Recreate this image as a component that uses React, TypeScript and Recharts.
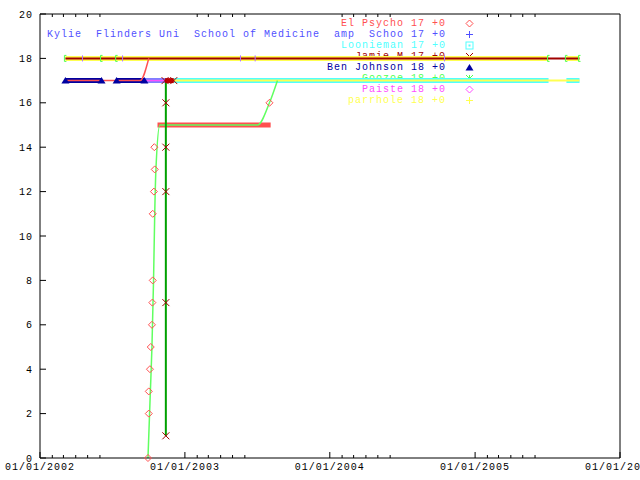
import React from "react";
import { ComposedChart, Line, Scatter, XAxis, YAxis, Legend } from "recharts";

const d = (s: string) => Date.parse(s + "T00:00:00Z");

// axes
const yearTicks = ["2002-01-01", "2003-01-01", "2004-01-01", "2005-01-01", "2006-01-01"];
const rankTicks = [0, 2, 4, 6, 8, 10, 12, 14, 16, 18, 20];
const minorTicks = [
  "2002-02-01", "2002-03-01", "2002-04-01", "2002-05-01", "2002-06-01",
  "2003-02-01", "2003-03-01", "2003-04-01", "2003-05-01", "2003-06-01",
  "2004-02-01", "2004-03-01", "2004-04-01", "2004-05-01", "2004-06-01",
  "2005-02-01", "2005-03-01", "2005-04-01", "2005-05-01", "2005-06-01",
];

// key
const names = [
  "El Psycho",
  "Kylie  Flinders Uni  School of Medicine  amp  Schoo",
  "Loonieman",
  "Jamie M",
  "Ben Johnson",
  "Goozoe",
  "Paiste",
  "parrhole",
];
const finals = ["17 +0", "17 +0", "17 +0", "17 +0", "18 +0", "18 +0", "18 +0", "18 +0"];

// El Psycho
const psychoDates = [
  "2002-09-30", "2002-10-02", "2002-10-02", "2002-10-05", "2002-10-07", "2002-10-10", "2002-10-11",
  "2002-10-12", "2002-10-12", "2002-10-15", "2002-10-17", "2002-10-16", "2003-08-02",
];
const psychoRanks = [0, 2, 3, 4, 5, 6, 7, 8, 11, 12, 13, 14, 16];
const psychoRunDates = ["2002-10-24", "2003-08-05"];
const psychoRunRanks = [15, 15];
const psychoLineDates = ["2002-03-08", "2002-09-10", "2002-10-02"];
const psychoLineRanks = [17, 17, 18];

// Goozoe
const goozoeDates = [
  "2002-09-30", "2002-10-06", "2002-10-10", "2002-10-14", "2002-10-17", "2002-10-20",
  "2002-10-30", "2003-07-03", "2003-08-02", "2003-08-22",
];
const goozoeRanks = [0, 3, 5, 8, 11, 13, 15, 15, 16, 17];

// parrhole
const parrholeDates = ["2002-03-06", "2005-07-05", "2005-07-20", "2005-08-19", "2005-09-21"];
const parrholeRanks = [18, 18, null, 18, 18];
const parrholeLineDates = ["2002-11-28", "2005-09-21"];
const parrholeLineRanks = [17, 17];

// Loonieman
const loonieDates = ["2002-12-04", "2005-07-05", "2005-07-20", "2005-08-19", "2005-09-21"];
const loonieRanks = [17, 17, null, 17, 17];

// Jamie M
const jamieLineDates = ["2002-03-06", "2005-09-21"];
const jamieLineRanks = [18, 18];
const jamieDates = ["2002-11-14", "2002-11-14", "2002-11-14", "2002-11-14", "2002-11-14", "2002-11-12", "2002-12-04"];
const jamieRanks = [1, 7, 12, 14, 16, 17, 17];
const jamieRunDates = ["2002-11-12", "2002-12-04"];
const jamieRunRanks = [17, 17];
const dropDates = ["2002-11-14", "2002-11-14"];
const dropRanks = [1, 17];

// Kylie
const kylieDates = ["2002-07-13", "2002-11-14"];
const kylieRanks = [17, 17];

// Ben Johnson
const benDates = ["2002-03-06", "2002-06-05", "2002-06-20", "2002-07-13", "2002-09-21"];
const benRanks = [17, 17, null, 17, 17];
const benEndDates = ["2002-03-06", "2002-06-05", "2002-07-13", "2002-09-21"];
const benEndRanks = [17, 17, 17, 17];

// Paiste
const paisteDates = ["2002-09-21", "2002-11-14"];
const paisteRanks = [17, 17];
const paisteMarkDates = ["2002-04-18", "2002-07-28", "2003-05-21", "2003-06-27", "2004-10-16"];
const paisteMarkRanks = [18, 18, 18, 18, 18];

// Goozoe marks
const goozoeMarkDates = ["2002-03-06", "2002-06-05", "2002-07-13", "2005-07-05", "2005-08-19", "2005-09-21"];
const goozoeMarkRanks = [18, 18, 18, 18, 18, 18];

const rows = (dates: string[], ranks: (number | null)[]) =>
  dates.map((s, i) => ({ t: d(s), r: ranks[i] }));

const RED = "#ff5050";
const BLUE = "#5050ff";
const CYAN = "#50ffff";
const DARKRED = "#a00000";
const DARKBLUE = "#0000a0";
const GREEN = "#50ff50";
const MAGENTA = "#ff50ff";
const YELLOW = "#ffff50";
const FONT = "'Liberation Mono', 'DejaVu Sans Mono', monospace";

type Kind = "diamond" | "plus" | "box" | "cross" | "triangle" | "star";
const kinds: Kind[] = ["diamond", "plus", "box", "cross", "triangle", "star", "diamond", "plus"];
const colors = [RED, BLUE, CYAN, DARKRED, DARKBLUE, GREEN, MAGENTA, YELLOW];

function Mark({ kind, x, y, c }: { kind: Kind; x: number; y: number; c: string }) {
  const s = 3.5;
  switch (kind) {
    case "diamond":
      return <polygon points={`${x},${y - s} ${x + s},${y} ${x},${y + s} ${x - s},${y}`} fill="none" stroke={c} />;
    case "plus":
      return (
        <g stroke={c}>
          <line x1={x - s} y1={y} x2={x + s} y2={y} />
          <line x1={x} y1={y - s} x2={x} y2={y + s} />
        </g>
      );
    case "box":
      return (
        <g stroke={c} fill="none">
          <rect x={x - s} y={y - s} width={2 * s} height={2 * s} />
          <rect x={x - 0.5} y={y - 0.5} width={1} height={1} fill={c} />
        </g>
      );
    case "cross":
      return (
        <g stroke={c}>
          <line x1={x - s} y1={y - s} x2={x + s} y2={y + s} />
          <line x1={x - s} y1={y + s} x2={x + s} y2={y - s} />
        </g>
      );
    case "triangle":
      return <polygon points={`${x},${y - s} ${x + s + 0.5},${y + s - 0.5} ${x - s - 0.5},${y + s - 0.5}`} fill={c} />;
    default:
      return (
        <g stroke={c}>
          <line x1={x - s} y1={y} x2={x + s} y2={y} />
          <line x1={x} y1={y - s} x2={x} y2={y + s} />
          <line x1={x - s} y1={y - s} x2={x + s} y2={y + s} />
          <line x1={x - s} y1={y + s} x2={x + s} y2={y - s} />
        </g>
      );
  }
}

const KeyBox = () => (
  <div style={{ width: 640, fontFamily: FONT, fontSize: 10, letterSpacing: 1 }}>
    {names.map((n, i) => (
      <div key={n} style={{ position: "relative", height: 11, lineHeight: "11px" }}>
        <span style={{ position: "absolute", right: 194, whiteSpace: "pre", color: colors[i] }}>
          {n + " " + finals[i]}
        </span>
        <svg width={11} height={11} style={{ position: "absolute", left: 464, top: 0 }}>
          <Mark kind={kinds[i]} x={5.5} y={5.5} c={colors[i]} />
        </svg>
      </div>
    ))}
  </div>
);

const band = (key: string, data: any[], color: string, w: number, type: any = "linear") => (
  <Line
    key={key}
    xAxisId="b"
    yAxisId="l"
    data={data}
    dataKey="r"
    type={type}
    stroke={color}
    strokeWidth={w}
    dot={false}
    activeDot={false}
    legendType="none"
    isAnimationActive={false}
  />
);

const marks = (key: string, data: any[], shape: (p: any) => React.ReactElement) => (
  <Scatter
    key={key}
    xAxisId="b"
    yAxisId="l"
    data={data}
    dataKey="r"
    shape={shape}
    legendType="none"
    isAnimationActive={false}
  />
);

const tickStyle = { fill: "#000", fontFamily: FONT, fontSize: 10, letterSpacing: 1 };
const noTick = () => <g />;
const fmt = (v: number) => {
  const dt = new Date(v);
  return `01/01/${dt.getUTCFullYear()}`;
};

export default function App() {
  const xDomain = [d("2002-01-01"), d("2006-01-01")];
  return (
    <div style={{ position: "absolute", left: 0, top: 0, width: 640, height: 480 }}>
      <ComposedChart width={640} height={480} margin={{ top: 0, right: 0, bottom: 0, left: 0 }}>
        <XAxis
          xAxisId="b"
          dataKey="t"
          type="number"
          domain={xDomain}
          ticks={yearTicks.map(d)}
          tickFormatter={fmt}
          interval={0}
          height={22}
          tickSize={-6}
          tickMargin={11}
          stroke="#000"
          tick={tickStyle}
        />
        <XAxis
          xAxisId="t"
          orientation="top"
          dataKey="t"
          type="number"
          domain={xDomain}
          ticks={yearTicks.map(d)}
          interval={0}
          height={14}
          tickSize={-6}
          stroke="#000"
          tick={noTick}
        />
        <YAxis
          yAxisId="l"
          dataKey="r"
          type="number"
          domain={[0, 20]}
          ticks={rankTicks}
          interval={0}
          width={40}
          tickSize={-6}
          tickMargin={13}
          stroke="#000"
          tick={tickStyle}
        />
        <YAxis
          yAxisId="r"
          orientation="right"
          dataKey="r"
          type="number"
          domain={[0, 20]}
          ticks={rankTicks}
          interval={0}
          width={20}
          tickSize={-6}
          stroke="#000"
          tick={noTick}
        />
        <Legend
          layout="vertical"
          align="center"
          verticalAlign="middle"
          content={() => <KeyBox />}
          wrapperStyle={{ position: "absolute", left: 0, top: 18, width: 640, zIndex: -1 }}
        />
        {band("parrhole", rows(parrholeDates, parrholeRanks), YELLOW, 5)}
        {band("loonie", rows(loonieDates, loonieRanks), CYAN, 5)}
        {band("kylie", rows(kylieDates, kylieRanks), "#7f7fff", 5)}
        {band("ben", rows(benDates, benRanks), DARKBLUE, 5)}
        {band("psychoRun", rows(psychoRunDates, psychoRunRanks), RED, 5)}
        {band("jamieLine", rows(jamieLineDates, jamieLineRanks), DARKRED, 2)}
        {band("parrholeLine", rows(parrholeLineDates, parrholeLineRanks), YELLOW, 2)}
        {band("psychoLine", rows(psychoLineDates, psychoLineRanks), RED, 1.5, "monotone")}
        {band("paiste", rows(paisteDates, paisteRanks), MAGENTA, 1.5)}
        {band("goozoe", rows(goozoeDates, goozoeRanks), "#60ff60", 1.5, "monotone")}
        {band("drop", rows(dropDates, dropRanks), "#00a000", 2)}
        {band("jamieRun", rows(jamieRunDates, jamieRunRanks), "#c00000", 5)}
        {marks("psycho", rows(psychoDates, psychoRanks), (p) => <Mark kind="diamond" x={p.cx} y={p.cy} c={RED} />)}
        {marks("jamie", rows(jamieDates, jamieRanks), (p) => <Mark kind="cross" x={p.cx} y={p.cy} c={DARKRED} />)}
        {marks("benEnds", rows(benEndDates, benEndRanks), (p) => <Mark kind="triangle" x={p.cx} y={p.cy} c={DARKBLUE} />)}
        {marks("paisteMarks", rows(paisteMarkDates, paisteMarkRanks), (p) => (
          <line x1={p.cx} y1={p.cy - 3} x2={p.cx} y2={p.cy + 3} stroke="#b070ff" />
        ))}
        {marks("goozoeMarks", rows(goozoeMarkDates, goozoeMarkRanks), (p) => (
          <polyline points={`${p.cx + 1},${p.cy - 3} ${p.cx - 1},${p.cy - 3} ${p.cx - 1},${p.cy + 3} ${p.cx + 1},${p.cy + 3}`} fill="none" stroke={GREEN} />
        ))}
        {marks("minorBottom", minorTicks.map((s) => ({ t: d(s), r: 0 })), (p) => (
          <line x1={p.cx} y1={p.cy} x2={p.cx} y2={p.cy - 3} stroke="#000" />
        ))}
        {marks("minorTop", minorTicks.map((s) => ({ t: d(s), r: 20 })), (p) => (
          <line x1={p.cx} y1={p.cy} x2={p.cx} y2={p.cy + 3} stroke="#000" />
        ))}
      </ComposedChart>
    </div>
  );
}
